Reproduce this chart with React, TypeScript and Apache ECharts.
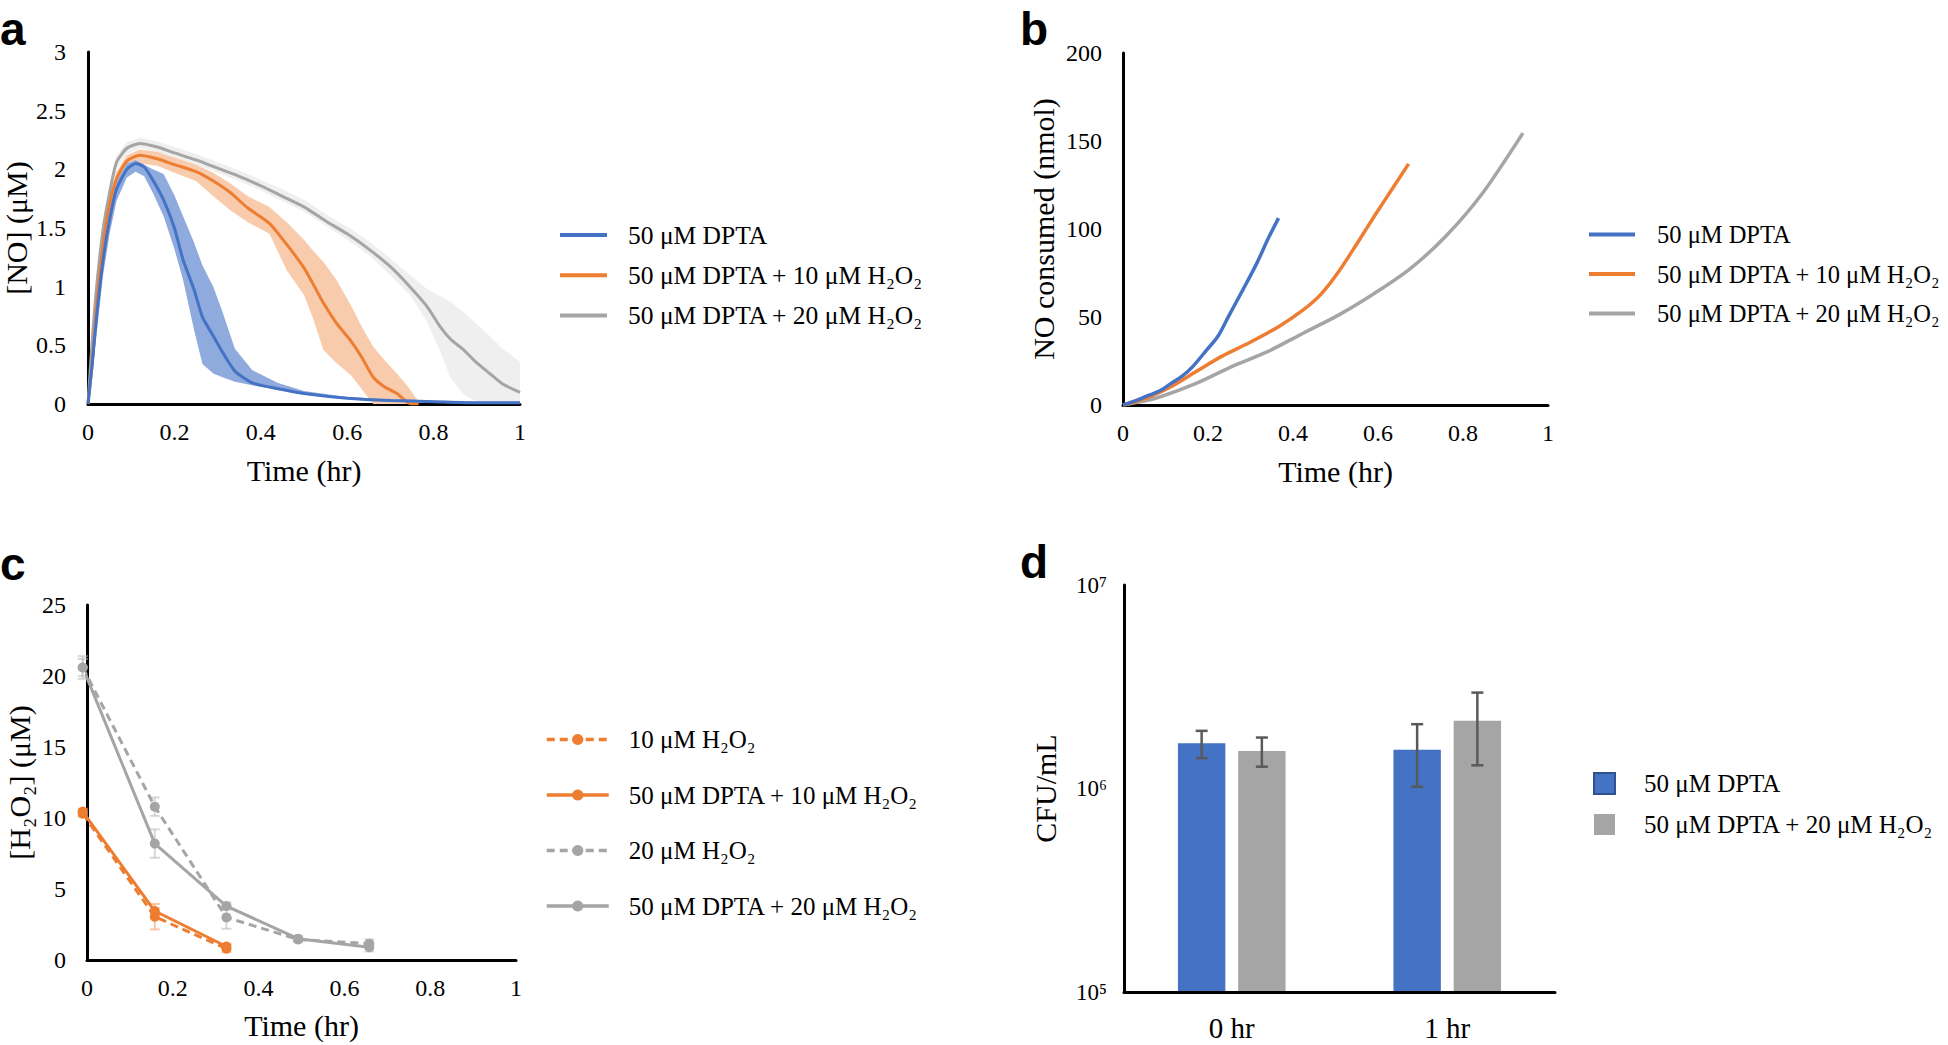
import React, { useEffect, useRef } from 'react';
import * as echarts from 'echarts';

const SERIF = '"Liberation Serif", "Times New Roman", Times, "DejaVu Serif", serif';
const SANS = '"Liberation Sans", Arial, Helvetica, sans-serif';
const BLUE = '#4472C4';
const ORANGE = '#ED7D31';
const GREY = '#A5A5A5';

const N_DPTA = '50 μM DPTA';
const N_DPTA10 = '50 μM DPTA + 10 μM H₂O₂';
const N_DPTA20 = '50 μM DPTA + 20 μM H₂O₂';
const N_H10 = '10 μM H₂O₂';
const N_H20 = '20 μM H₂O₂';

// ---------- Panel a : [NO] (μM) vs time, mean with SD band ----------
const aBlueT = [0, 0.01, 0.02, 0.035, 0.05, 0.066, 0.09, 0.11, 0.13, 0.15, 0.175, 0.2, 0.22, 0.245, 0.265, 0.29, 0.31, 0.34, 0.38, 0.44, 0.5, 0.6, 0.7, 0.8, 0.9, 1.0];
const aBlueMean = [0, 0.35, 0.75, 1.23, 1.57, 1.83, 2.0, 2.05, 2.02, 1.91, 1.74, 1.5, 1.23, 0.98, 0.74, 0.58, 0.45, 0.28, 0.18, 0.13, 0.09, 0.05, 0.03, 0.02, 0.01, 0.01];
const aBlueLo = [0, 0.25, 0.6, 1.1, 1.45, 1.73, 1.93, 1.98, 1.94, 1.8, 1.6, 1.32, 1.06, 0.64, 0.34, 0.26, 0.23, 0.19, 0.16, 0.12, 0.08, 0.04, 0.02, 0.01, 0, 0];
const aBlueHi = [0, 0.45, 0.85, 1.32, 1.65, 1.9, 2.05, 2.08, 2.04, 2.0, 1.96, 1.78, 1.6, 1.38, 1.18, 1.0, 0.8, 0.47, 0.29, 0.18, 0.11, 0.06, 0.04, 0.03, 0.02, 0.02];

const aOrangeT = [0, 0.01, 0.02, 0.035, 0.05, 0.066, 0.09, 0.12, 0.16, 0.2, 0.25, 0.29, 0.33, 0.37, 0.42, 0.46, 0.5, 0.52, 0.545, 0.575, 0.61, 0.635, 0.66, 0.685, 0.715, 0.738, 0.75, 0.765];
const aOrangeMean = [0, 0.35, 0.84, 1.35, 1.7, 1.92, 2.07, 2.12, 2.09, 2.04, 1.98, 1.9, 1.8, 1.67, 1.54, 1.36, 1.16, 1.03, 0.86, 0.69, 0.53, 0.39, 0.23, 0.15, 0.09, 0.02, 0, 0];
const aOrangeLo = [0, 0.25, 0.7, 1.2, 1.58, 1.83, 2.0, 2.05, 2.03, 1.97, 1.9, 1.77, 1.65, 1.55, 1.45, 1.14, 0.93, 0.74, 0.46, 0.35, 0.24, 0.12, 0, 0, 0, 0, 0, 0];
const aOrangeHi = [0, 0.45, 0.95, 1.45, 1.78, 1.98, 2.12, 2.17, 2.15, 2.1, 2.04, 1.97, 1.88, 1.77, 1.68, 1.55, 1.4, 1.31, 1.21, 1.06, 0.83, 0.65, 0.49, 0.38, 0.26, 0.16, 0.1, 0.02];

const aGreyT = [0, 0.01, 0.02, 0.035, 0.05, 0.066, 0.09, 0.12, 0.16, 0.2, 0.25, 0.3, 0.35, 0.4, 0.45, 0.5, 0.55, 0.6, 0.65, 0.7, 0.745, 0.785, 0.815, 0.84, 0.87, 0.9, 0.93, 0.96, 1.0];
const aGreyMean = [0, 0.55, 1.0, 1.49, 1.8, 2.06, 2.18, 2.22, 2.19, 2.14, 2.08, 2.01, 1.94, 1.86, 1.77, 1.68, 1.56, 1.45, 1.32, 1.17, 1.0, 0.83, 0.66, 0.55, 0.46, 0.35, 0.26, 0.17, 0.1];
const aGreyLo = [0, 0.4, 0.85, 1.38, 1.72, 2.0, 2.13, 2.18, 2.15, 2.1, 2.04, 1.97, 1.9, 1.82, 1.73, 1.64, 1.52, 1.4, 1.27, 1.1, 0.93, 0.7, 0.45, 0.22, 0.08, 0.02, 0, 0, 0];
const aGreyHi = [0, 0.65, 1.1, 1.58, 1.88, 2.12, 2.23, 2.27, 2.24, 2.19, 2.13, 2.06, 1.99, 1.91, 1.83, 1.74, 1.62, 1.51, 1.39, 1.24, 1.1, 0.98, 0.92, 0.87, 0.78, 0.68, 0.58, 0.47, 0.36];

// ---------- Panel b : NO consumed (nmol) ----------
const bBlueT = [0, 0.03, 0.063, 0.09, 0.113, 0.14, 0.164, 0.197, 0.223, 0.248, 0.282, 0.315, 0.34, 0.366];
const bBlueV = [0, 2.5, 5.7, 8.5, 12.3, 16.5, 21.8, 31.3, 38.9, 50.2, 65.4, 80.6, 93.8, 106.2];
const bOrangeT = [0, 0.03, 0.063, 0.113, 0.172, 0.231, 0.298, 0.366, 0.424, 0.466, 0.508, 0.55, 0.592, 0.634, 0.672];
const bOrangeV = [0, 2, 4.7, 10.4, 19, 27.5, 35.5, 44.5, 54, 63, 76, 91.5, 107.5, 123, 137];
const bGreyT = [0, 0.04, 0.088, 0.172, 0.256, 0.34, 0.424, 0.508, 0.592, 0.676, 0.76, 0.845, 0.941];
const bGreyV = [0, 1.8, 4.7, 12.3, 21.8, 30.3, 40.8, 51.2, 63.5, 77.5, 96, 120, 154.5];

// ---------- Panel c : [H2O2] (μM) ----------
const cT = [-0.01, 0.158, 0.325, 0.492, 0.658];
const cH10 = [10.3, 3.05, 0.8];
const cH10Err = [0.2, 0.9, 0.25];
const cDPTA10 = [10.45, 3.45, 0.95];
const cDPTA10Err = [0.2, 0.2, 0.2];
const cH20 = [20.6, 10.8, 3.0, 1.45, 1.15];
const cH20Err = [0.6, 0.65, 0.8, 0.2, 0.3];
const cDPTA20 = [20.6, 8.2, 3.8, 1.5, 0.9];
const cDPTA20Err = [0.8, 1.0, 0.25, 0.2, 0.3];

// ---------- Panel d : CFU/mL ----------
const dCats = ['0 hr', '1 hr'];
const dDPTA = [1.67e6, 1.55e6];
const dDPTALo = [1.41e6, 1.02e6];
const dDPTAHi = [1.92e6, 2.07e6];
const dDPTA20 = [1.53e6, 2.15e6];
const dDPTA20Lo = [1.28e6, 1.3e6];
const dDPTA20Hi = [1.78e6, 2.96e6];

const BAR_W = 0.22;
const BAR_GAP = 0.27;

const SUP: Record<string, string> = { '0': '⁰', '1': '¹', '2': '²', '3': '³', '4': '⁴', '5': '⁵', '6': '⁶', '7': '⁷', '8': '⁸', '9': '⁹', '-': '⁻' };

const pair = (T: number[], V: number[]) => T.map((t, i) => [t, V[i]]);
const txt = (size: number) => ({ fontFamily: SERIF, fontSize: size, color: '#000' });

function valueAxis(o: any) {
  return {
    type: 'value',
    min: o.min,
    max: o.max,
    interval: o.interval,
    name: o.name,
    nameLocation: 'middle',
    nameGap: o.nameGap,
    nameTextStyle: txt(30),
    axisLine: { show: true, onZero: false, lineStyle: { color: '#000', width: 3 } },
    axisTick: { show: false },
    splitLine: { show: false },
    axisLabel: { ...txt(24), margin: o.margin },
  };
}

function letter(ch: string, left: number, top: number) {
  return {
    type: 'text',
    left,
    top,
    style: { text: ch, font: `bold 46px ${SANS}`, fill: '#000' },
  };
}

function band(T: number[], lo: number[], hi: number[], color: string) {
  return {
    type: 'custom',
    silent: true,
    z: 1,
    data: T.map((t, i) => [t, lo[i], hi[i]]),
    encode: { x: 0, y: [1, 2] },
    renderItem: (params: any, api: any) => {
      if (params.dataIndex !== 0) return null;
      const upper = T.map((t, i) => api.coord([t, hi[i]]));
      const lower = T.map((t, i) => api.coord([t, lo[i]])).reverse();
      return { type: 'polygon', shape: { points: upper.concat(lower) }, style: { fill: color } };
    },
  };
}

function plainLine(name: string, T: number[], V: number[], color: string, width: number, smooth: number) {
  return {
    type: 'line',
    name,
    data: pair(T, V),
    symbol: 'none',
    smooth,
    silent: true,
    z: 3,
    lineStyle: { color, width },
    itemStyle: { color },
  };
}

function lineLegend(left: number, top: number, itemWidth: number, itemGap: number, textPad: number, fontSize: number, data: string[]) {
  return {
    orient: 'vertical',
    left,
    top,
    padding: 0,
    icon: 'rect',
    itemWidth,
    itemHeight: 4,
    itemGap,
    selectedMode: false,
    textStyle: { ...txt(fontSize), padding: [0, 0, 0, textPad] },
    data,
  };
}

function errRender(color: string, capHalf: number, lineWidth: number, offsetSign: number) {
  return (params: any, api: any) => {
    const x = api.value(0);
    const pLo = api.coord([x, api.value(1)]);
    const pHi = api.coord([x, api.value(2)]);
    let dx = 0;
    if (offsetSign !== 0) {
      const cw = api.size([1, 0])[0];
      const bw = cw * BAR_W;
      dx = (offsetSign * (bw + bw * BAR_GAP)) / 2;
    }
    const cx = pLo[0] + dx;
    const style = { stroke: color, lineWidth };
    return {
      type: 'group',
      children: [
        { type: 'line', shape: { x1: cx, y1: pLo[1], x2: cx, y2: pHi[1] }, style },
        { type: 'line', shape: { x1: cx - capHalf, y1: pHi[1], x2: cx + capHalf, y2: pHi[1] }, style },
        { type: 'line', shape: { x1: cx - capHalf, y1: pLo[1], x2: cx + capHalf, y2: pLo[1] }, style },
      ],
    };
  };
}

function errSeries(X: number[], V: number[], E: number[], color: string) {
  return {
    type: 'custom',
    silent: true,
    z: 1,
    clip: false,
    data: V.map((v, i) => [X[i], v - E[i], v + E[i]]),
    encode: { x: 0, y: [1, 2] },
    renderItem: errRender(color, 5, 2, 0),
  };
}

function markerLine(name: string, T: number[], V: number[], color: string, dashed: boolean) {
  return {
    type: 'line',
    name,
    data: pair(T.slice(0, V.length), V),
    symbol: 'circle',
    symbolSize: 10,
    showSymbol: true,
    clip: false,
    silent: true,
    z: dashed ? 3 : 4,
    lineStyle: { color, width: 3, type: dashed ? [8, 5] : 'solid' },
    itemStyle: { color },
  };
}

const optionA = {
  animation: false,
  graphic: [letter('a', 0, 6)],
  grid: { left: 88, top: 52, width: 432, height: 352 },
  xAxis: valueAxis({ min: 0, max: 1, interval: 0.2, name: 'Time (hr)', nameGap: 51, margin: 16 }),
  yAxis: valueAxis({ min: 0, max: 3, interval: 0.5, name: '[NO] (μM)', nameGap: 57, margin: 22 }),
  legend: lineLegend(560, 222, 47, 14.2, 16, 25.5, [N_DPTA, N_DPTA10, N_DPTA20]),
  series: [
    band(aGreyT, aGreyLo, aGreyHi, '#EFEFEF'),
    band(aOrangeT, aOrangeLo, aOrangeHi, '#F8CBAD'),
    band(aBlueT, aBlueLo, aBlueHi, '#8FAADC'),
    plainLine(N_DPTA20, aGreyT, aGreyMean, GREY, 3, 0.2),
    plainLine(N_DPTA10, aOrangeT, aOrangeMean, ORANGE, 3, 0.2),
    plainLine(N_DPTA, aBlueT, aBlueMean, BLUE, 3, 0.2),
  ],
};

const optionB = {
  animation: false,
  graphic: [letter('b', 46, 6)],
  grid: { left: 149, top: 53, width: 425, height: 352 },
  xAxis: valueAxis({ min: 0, max: 1, interval: 0.2, name: 'Time (hr)', nameGap: 51, margin: 16 }),
  yAxis: valueAxis({ min: 0, max: 200, interval: 50, name: 'NO consumed (nmol)', nameGap: 65, margin: 21 }),
  legend: lineLegend(615, 222, 46, 14.5, 17, 24.5, [N_DPTA, N_DPTA10, N_DPTA20]),
  series: [
    plainLine(N_DPTA20, bGreyT, bGreyV, GREY, 3.5, 0.3),
    plainLine(N_DPTA10, bOrangeT, bOrangeV, ORANGE, 3.5, 0.3),
    plainLine(N_DPTA, bBlueT, bBlueV, BLUE, 3.5, 0.3),
  ],
};

const optionC = {
  animation: false,
  graphic: [letter('c', 0, 19)],
  grid: { left: 87, top: 83, width: 429, height: 358 },
  xAxis: valueAxis({ min: 0, max: 1, interval: 0.2, name: 'Time (hr)', nameGap: 50, margin: 16 }),
  yAxis: valueAxis({ min: 0, max: 25, interval: 5, name: '[H₂O₂] (μM)', nameGap: 53, margin: 21 }),
  legend: {
    orient: 'vertical',
    left: 545,
    top: 205,
    padding: 0,
    itemWidth: 62,
    itemHeight: 14,
    itemGap: 30.5,
    selectedMode: false,
    lineStyle: { width: 3.5 },
    textStyle: { ...txt(25), padding: [0, 0, 0, 15] },
    data: [N_H10, N_DPTA10, N_H20, N_DPTA20],
  },
  series: [
    errSeries(cT, cH20, cH20Err, 'rgba(190,190,190,0.6)'),
    errSeries(cT, cDPTA20, cDPTA20Err, 'rgba(190,190,190,0.6)'),
    errSeries(cT, cH10, cH10Err, 'rgba(244,177,131,0.7)'),
    errSeries(cT, cDPTA10, cDPTA10Err, 'rgba(244,177,131,0.7)'),
    markerLine(N_H20, cT, cH20, GREY, true),
    markerLine(N_DPTA20, cT, cDPTA20, GREY, false),
    markerLine(N_H10, cT, cH10, ORANGE, true),
    markerLine(N_DPTA10, cT, cDPTA10, ORANGE, false),
  ],
};

const optionD = {
  animation: false,
  graphic: [letter('d', 46, 17)],
  grid: { left: 150, top: 63, width: 431, height: 407 },
  xAxis: {
    type: 'category',
    data: dCats,
    axisLine: { show: true, onZero: false, lineStyle: { color: '#000', width: 3 } },
    axisTick: { show: false },
    axisLabel: { ...txt(29), margin: 21 },
    z: 5,
  },
  yAxis: {
    type: 'log',
    logBase: 10,
    min: 1e5,
    max: 1e7,
    startValue: 1e5,
    name: 'CFU/mL',
    nameLocation: 'middle',
    nameGap: 64,
    nameTextStyle: txt(30),
    axisLine: { show: true, onZero: false, lineStyle: { color: '#000', width: 3 } },
    axisTick: { show: false },
    splitLine: { show: false },
    axisLabel: {
      ...txt(23),
      margin: 17,
      formatter: (v: number) => '10' + String(Math.round(Math.log10(v))).split('').map((c) => SUP[c] || c).join(''),
    },
  },
  legend: {
    orient: 'vertical',
    left: 619,
    top: 249,
    padding: 0,
    icon: 'rect',
    itemWidth: 21,
    itemHeight: 21,
    itemGap: 16,
    selectedMode: false,
    textStyle: { ...txt(25), padding: [0, 0, 0, 24] },
    data: [
      { name: N_DPTA, itemStyle: { borderColor: '#2F528F', borderWidth: 2 } },
      { name: N_DPTA20 },
    ],
  },
  series: [
    {
      type: 'bar',
      name: N_DPTA,
      data: dDPTA,
      barWidth: `${BAR_W * 100}%`,
      barGap: `${BAR_GAP * 100}%`,
      clip: true,
      silent: true,
      itemStyle: { color: BLUE },
    },
    {
      type: 'bar',
      name: N_DPTA20,
      data: dDPTA20,
      barWidth: `${BAR_W * 100}%`,
      barGap: `${BAR_GAP * 100}%`,
      clip: true,
      silent: true,
      itemStyle: { color: GREY },
    },
    {
      type: 'custom',
      silent: true,
      z: 4,
      data: dCats.map((_, i) => [i, dDPTALo[i], dDPTAHi[i]]),
      encode: { x: 0, y: [1, 2] },
      renderItem: errRender('#595959', 6, 2.5, -1),
    },
    {
      type: 'custom',
      silent: true,
      z: 4,
      data: dCats.map((_, i) => [i, dDPTA20Lo[i], dDPTA20Hi[i]]),
      encode: { x: 0, y: [1, 2] },
      renderItem: errRender('#595959', 6, 2.5, 1),
    },
  ],
};

function Panel({ option, left, top, width, height }: { option: any; left: number; top: number; width: number; height: number }) {
  const ref = useRef<HTMLDivElement>(null);
  useEffect(() => {
    if (!ref.current) return;
    const chart = echarts.init(ref.current, undefined, { renderer: 'svg' });
    chart.setOption(option);
    return () => chart.dispose();
  }, [option]);
  return <div ref={ref} style={{ position: 'absolute', left, top, width, height }} />;
}

export default function App() {
  return (
    <div style={{ position: 'fixed', left: 0, top: 0, width: 1948, height: 1045, background: '#fff', overflow: 'hidden' }}>
      <Panel option={optionA} left={0} top={0} width={974} height={522} />
      <Panel option={optionB} left={974} top={0} width={974} height={522} />
      <Panel option={optionC} left={0} top={522} width={974} height={523} />
      <Panel option={optionD} left={974} top={522} width={974} height={523} />
    </div>
  );
}
